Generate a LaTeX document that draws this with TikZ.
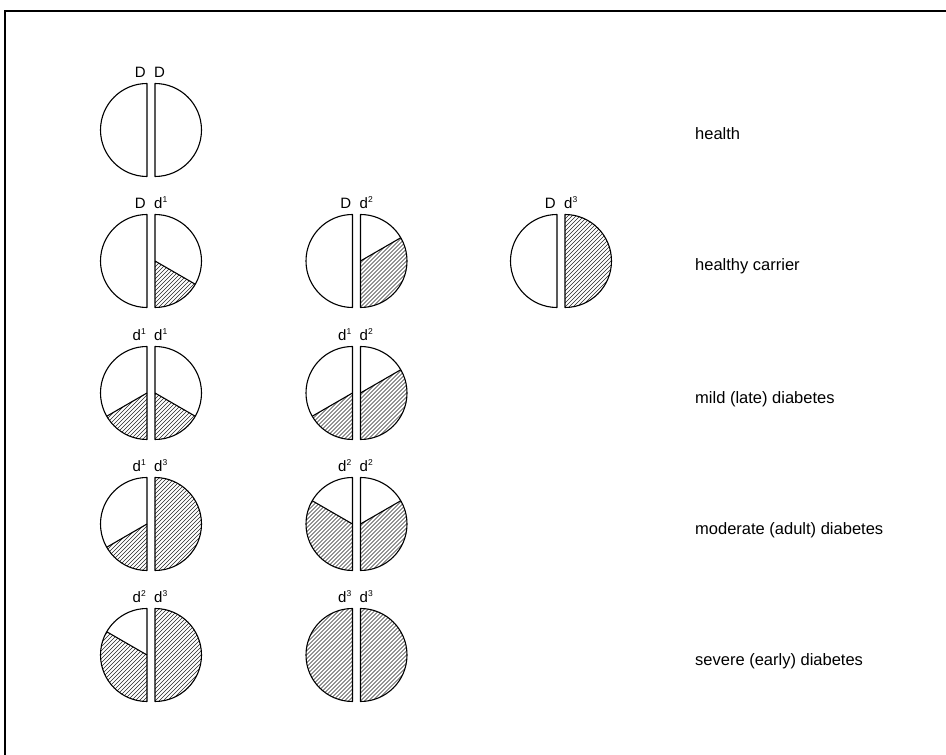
\documentclass[tikz,border=0pt]{standalone}
\usepackage{fontspec}
\setmainfont{Liberation Sans}
\def\Rad{46.5}
\tikzset{
  edge/.style={line width=1.1pt, line join=round},
  hatchline/.style={line width=0.55pt, black!85},
  allele/.style={inner sep=0pt, font=\fontsize{15}{17}\selectfont},
  rowlabel/.style={inner sep=0pt, anchor=base west, font=\fontsize{16.5}{19}\selectfont},
  frame/.style={line width=1.6pt}
}
\newcommand\hatchfillxx{\foreach \k in {-110,-106,...,110} \draw[hatchline] (\k-60,-60) -- (\k+60,60);}
% left half disk: #1 cx, #2 cy, #3 hatched degrees from bottom
\newcommand\lefthalfxx[3]{%
  \begin{scope}[shift={(#1-4,#2)}]
    \ifdim #3pt>0pt
      \begin{scope}
        \clip (0,0) -- (270:\Rad pt) arc[start angle=270, end angle={270-#3}, radius=\Rad pt] -- cycle;
        \hatchfillxx
      \end{scope}
      \ifdim #3pt<180pt \draw[edge] (0,0) -- ({270-#3}:\Rad pt);\fi
    \fi
    \draw[edge] (0,-\Rad) arc[start angle=270, end angle=90, radius=\Rad pt] -- cycle;
  \end{scope}}
\newcommand\righthalfxx[3]{%
  \begin{scope}[shift={(#1+4,#2)}]
    \ifdim #3pt>0pt
      \begin{scope}
        \clip (0,0) -- (-90:\Rad pt) arc[start angle=-90, end angle={-90+#3}, radius=\Rad pt] -- cycle;
        \hatchfillxx
      \end{scope}
      \ifdim #3pt<180pt \draw[edge] (0,0) -- ({-90+#3}:\Rad pt);\fi
    \fi
    \draw[edge] (0,-\Rad) arc[start angle=-90, end angle=90, radius=\Rad pt] -- cycle;
  \end{scope}}
\newcommand\supxx[1]{\raisebox{0.42em}{\fontsize{8.5}{8.5}\selectfont #1}}
% pair: #1 cx, #2 cy, #3 left deg, #4 right deg, #5 left label, #6 right label, #7 name
\newcommand\pairxx[7]{%
  \lefthalfxx{#1}{#2}{#3}
  \righthalfxx{#1}{#2}{#4}
  \node[allele, anchor=base east] (#7l) at (#1-5,#2+52) {#5};
  \node[allele, anchor=base west] (#7r) at (#1+3,#2+52) {#6};}
\begin{document}
\begin{tikzpicture}[x=1pt,y=1pt]
\useasboundingbox (0,0) rectangle (946,755);
\draw[frame] (5,0) -- (5,744) -- (946,744);
% rows (y up): 625, 494, 362, 231, 100 ; columns 151, 356.5, 561
\pairxx{151}{625}{0}{0}{D}{D}{a1}
\pairxx{151}{494}{0}{60}{D}{d\supxx{1}}{b1}
\pairxx{356.5}{494}{0}{120}{D}{d\supxx{2}}{b2}
\pairxx{561}{494}{0}{180}{D}{d\supxx{3}}{b3}
\pairxx{151}{362}{60}{60}{d\supxx{1}}{d\supxx{1}}{c1}
\pairxx{356.5}{362}{60}{120}{d\supxx{1}}{d\supxx{2}}{c2}
\pairxx{151}{231}{60}{180}{d\supxx{1}}{d\supxx{3}}{e1}
\pairxx{356.5}{231}{120}{120}{d\supxx{2}}{d\supxx{2}}{e2}
\pairxx{151}{100}{120}{180}{d\supxx{2}}{d\supxx{3}}{f1}
\pairxx{356.5}{100}{180}{180}{d\supxx{3}}{d\supxx{3}}{f2}
\node[rowlabel] (lhealth) at (695,615) {health};
\node[rowlabel] (lcarrier) at (695,484) {healthy carrier};
\node[rowlabel] (lmild) at (695,351) {mild (late) diabetes};
\node[rowlabel] (lmoderate) at (695,220) {moderate (adult) diabetes};
\node[rowlabel] (lsevere) at (695,89) {severe (early) diabetes};
\end{tikzpicture}
\end{document}
